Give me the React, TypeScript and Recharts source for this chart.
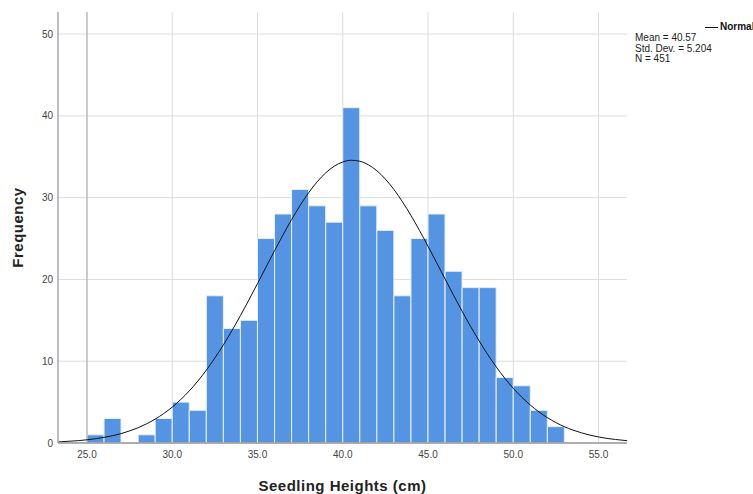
import React from 'react';
import {
  ComposedChart,
  Bar,
  Line,
  XAxis,
  YAxis,
  CartesianGrid,
  ReferenceLine,
} from 'recharts';

// Histogram bins (bin centres, width 1 cm) and frequencies
const binCenters = [
  25.5, 26.5, 27.5, 28.5, 29.5, 30.5, 31.5, 32.5, 33.5, 34.5, 35.5, 36.5, 37.5, 38.5,
  39.5, 40.5, 41.5, 42.5, 43.5, 44.5, 45.5, 46.5, 47.5, 48.5, 49.5, 50.5, 51.5, 52.5,
];
const frequencies = [
  1, 3, 0, 1, 3, 5, 4, 18, 14, 15, 25, 28, 31, 29, 27, 41, 29, 26, 18, 25, 28, 21, 19, 19, 8, 7, 4, 2,
];

// Normal curve points
const curveX = [
  23.3, 23.5, 24, 24.5, 25, 25.5, 26, 26.5, 27, 27.5, 28, 28.5, 29, 29.5, 30, 30.5, 31, 31.5, 32,
  32.5, 33, 33.5, 34, 34.5, 35, 35.5, 36, 36.5, 37, 37.5, 38, 38.5, 39, 39.5, 40, 40.5, 41, 41.5,
  42, 42.5, 43, 43.5, 44, 44.5, 45, 45.5, 46, 46.5, 47, 47.5, 48, 48.5, 49, 49.5, 50, 50.5, 51,
  51.5, 52, 52.5, 53, 53.5, 54, 54.5, 55, 55.5, 56, 56.5, 56.7,
];
const curveY = [
  0.14, 0.16, 0.22, 0.29, 0.39, 0.52, 0.69, 0.89, 1.15, 1.48, 1.87, 2.35, 2.92, 3.6, 4.39, 5.32,
  6.37, 7.57, 8.91, 10.39, 12.0, 13.74, 15.58, 17.51, 19.5, 21.51, 23.51, 25.46, 27.32, 29.05,
  30.6, 31.94, 33.03, 33.85, 34.36, 34.57, 34.45, 34.02, 33.29, 32.27, 31.0, 29.5, 27.82, 25.99,
  24.06, 22.07, 20.06, 18.06, 16.11, 14.24, 12.48, 10.83, 9.31, 7.93, 6.69, 5.6, 4.64, 3.81,
  3.1, 2.5, 1.99, 1.58, 1.24, 0.96, 0.74, 0.56, 0.43, 0.32, 0.28,
];

const xTicks = [25, 30, 35, 40, 45, 50, 55];
const yTicks = [0, 10, 20, 30, 40, 50];
const xDomain = [23.3, 56.67];
const yDomain = [0, 52.7];

const statLines = ['Mean = 40.57', 'Std. Dev. = 5.204', 'N = 451'];
const legendName = 'Normal';
const xTitle = 'Seedling Heights (cm)';
const yTitle = 'Frequency';

const barData = binCenters.map((x, i) => ({ x, count: frequencies[i] }));
const curveData = curveX.map((x, i) => ({ x, y: curveY[i] }));

const FONT = '"Liberation Sans", Arial, Helvetica, sans-serif';

export default function App() {
  return (
    <div
      style={{
        position: 'absolute',
        left: 0,
        top: 0,
        width: 753,
        height: 494,
        background: '#fff',
        fontFamily: FONT,
      }}
    >
      <ComposedChart
        width={753}
        height={494}
        data={barData}
        margin={{ top: 12, right: 126, left: 0, bottom: 0 }}
        barCategoryGap={0}
        barGap={0}
      >
        <CartesianGrid
          stroke="#dcdcdc"
          strokeWidth={1}
          horizontalValues={yTicks}
          verticalValues={xTicks}
        />
        <XAxis
          xAxisId={0}
          dataKey="x"
          type="number"
          domain={xDomain}
          ticks={xTicks}
          allowDataOverflow
          tickFormatter={(v: number) => v.toFixed(1)}
          tickLine={false}
          axisLine={{ stroke: '#9a9a9a', strokeWidth: 1.5 }}
          tick={{ fontSize: 10, fill: '#444', fontFamily: FONT }}
          height={51}
          label={{
            value: xTitle,
            position: 'insideBottom',
            offset: 3,
            style: { fontSize: 15, fontWeight: 'bold', fill: '#222', fontFamily: FONT, letterSpacing: 0.5 },
          }}
        />
        <XAxis xAxisId="curve" dataKey="x" type="number" domain={xDomain} allowDataOverflow hide />
        <YAxis
          type="number"
          domain={yDomain}
          ticks={yTicks}
          allowDataOverflow
          width={58}
          tickLine={false}
          tickSize={3}
          tickMargin={2}
          axisLine={{ stroke: '#a8a8a8', strokeWidth: 1.5 }}
          tick={{ fontSize: 10, fill: '#444', fontFamily: FONT }}
          label={{
            value: yTitle,
            angle: -90,
            position: 'insideLeft',
            offset: 18,
            style: { textAnchor: 'middle', fontSize: 15, fontWeight: 'bold', fill: '#222', fontFamily: FONT, letterSpacing: 0.5 },
          }}
        />
        <ReferenceLine x={xTicks[0]} stroke="#b4b4b4" strokeWidth={1.2} />
        <Bar
          dataKey="count"
          fill="#5594e2"
          stroke="#e6f0fb"
          strokeWidth={1}
          isAnimationActive={false}
        />
        <Line
          xAxisId="curve"
          data={curveData}
          dataKey="y"
          type="monotone"
          stroke="#111"
          strokeWidth={1}
          dot={false}
          activeDot={false}
          isAnimationActive={false}
        />
      </ComposedChart>

      <div style={{ position: 'absolute', left: 705, top: 27, width: 13, borderTop: '1px solid #111' }} />
      <div
        style={{
          position: 'absolute',
          left: 720,
          top: 21,
          fontSize: 10,
          lineHeight: '12px',
          fontWeight: 'bold',
          color: '#111',
          whiteSpace: 'nowrap',
        }}
      >
        {legendName}
      </div>
      <div
        style={{
          position: 'absolute',
          left: 635,
          top: 33,
          fontSize: 10,
          lineHeight: '10.5px',
          color: '#222',
          whiteSpace: 'nowrap',
        }}
      >
        {statLines.map((s) => (
          <div key={s}>{s}</div>
        ))}
      </div>
    </div>
  );
}
